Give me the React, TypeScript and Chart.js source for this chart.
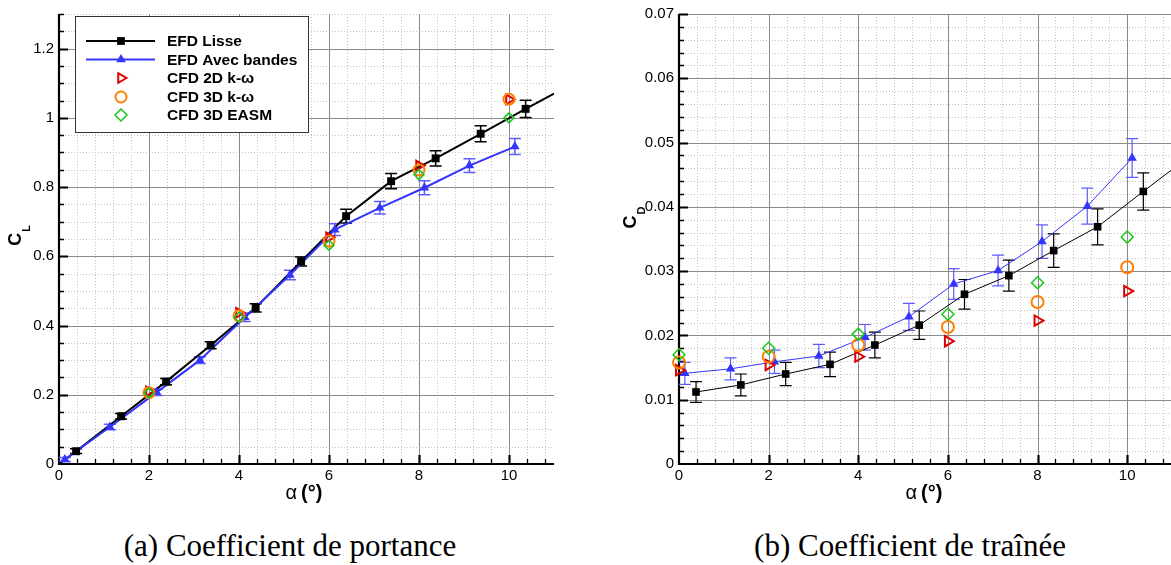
import React, { useEffect, useRef } from 'react';
import { Chart, registerables } from 'chart.js';

Chart.register(...registerables);

const SANS = '"Liberation Sans", Arial, Helvetica, sans-serif';
const SERIF = '"Liberation Serif", "Times New Roman", serif';
Chart.defaults.font.family = SANS;

// ---------------- data : lift coefficient ----------------
const CL_X_TICKS = [0, 2, 4, 6, 8, 10];
const CL_Y_TICKS = [0, 0.2, 0.4, 0.6, 0.8, 1, 1.2];

const LISSE_ALPHA_CL = [0.38, 1.38, 2.38, 3.37, 4.37, 5.38, 6.38, 7.38, 8.37, 9.37, 10.37];
const LISSE_CL = [0.037, 0.138, 0.238, 0.343, 0.451, 0.585, 0.716, 0.817, 0.883, 0.954, 1.026];
const LISSE_CL_ERR = [0.007, 0.008, 0.009, 0.01, 0.012, 0.013, 0.02, 0.022, 0.022, 0.023, 0.025];
const LISSE_CL_TREND_ALPHA = [0, 11];
const LISSE_CL_TREND = [0, 1.07];

const BANDES_ALPHA_CL = [0.13, 1.13, 2.17, 3.13, 4.13, 5.13, 6.13, 7.13, 8.12, 9.12, 10.13];
const BANDES_CL = [0.013, 0.107, 0.207, 0.3, 0.424, 0.546, 0.677, 0.74, 0.798, 0.862, 0.917];
const BANDES_CL_ERR = [0.006, 0.008, 0.009, 0.01, 0.012, 0.014, 0.017, 0.018, 0.02, 0.02, 0.023];

const CFD_ALPHA_CL = [2, 4, 6, 8, 10];
const CFD2D_CL = [0.21, 0.437, 0.655, 0.862, 1.053];
const CFD3D_CL = [0.206, 0.428, 0.644, 0.849, 1.054];
const EASM_CL = [0.205, 0.424, 0.632, 0.836, 1.0];

// ---------------- data : drag coefficient ----------------
const CD_X_TICKS = [0, 2, 4, 6, 8, 10];
const CD_Y_TICKS = [0, 0.01, 0.02, 0.03, 0.04, 0.05, 0.06, 0.07];

const LISSE_ALPHA_CD = [0.38, 1.38, 2.38, 3.37, 4.37, 5.36, 6.37, 7.36, 8.36, 9.34, 10.36];
const LISSE_CD = [0.0112, 0.0123, 0.014, 0.0155, 0.0185, 0.0216, 0.0264, 0.0293, 0.0332, 0.0369, 0.0424];
const LISSE_CD_ERR = [0.0016, 0.0017, 0.0018, 0.0019, 0.002, 0.0022, 0.0023, 0.0024, 0.0026, 0.0028, 0.0029];
const LISSE_CD_TREND_ALPHA = [11];
const LISSE_CD_TREND = [0.0458];

const BANDES_ALPHA_CD = [0.13, 1.15, 2.13, 3.12, 4.15, 5.13, 6.13, 7.12, 8.1, 9.11, 10.11];
const BANDES_CD = [0.0141, 0.0148, 0.0159, 0.0168, 0.0197, 0.0229, 0.028, 0.0301, 0.0346, 0.0401, 0.0476];
const BANDES_CD_ERR = [0.0017, 0.0017, 0.0018, 0.0018, 0.002, 0.0021, 0.0024, 0.0024, 0.0026, 0.0028, 0.003];

const CFD_ALPHA_CD = [0, 2, 4, 6, 8, 10];
const CFD2D_CD = [0.0146, 0.0154, 0.0167, 0.0191, 0.0223, 0.0269];
const CFD3D_CD = [0.0158, 0.0167, 0.0185, 0.0213, 0.0252, 0.0306];
const EASM_CD = [0.017, 0.018, 0.0202, 0.0233, 0.0282, 0.0353];

const LEGEND_LABELS = ['EFD Lisse', 'EFD Avec bandes', 'CFD 2D k-\u03c9', 'CFD 3D k-\u03c9', 'CFD 3D EASM'];

// ---------------- styles ----------------
const C = {
  lisse: '#000000',
  bandes: '#3434ff',
  bandesErr: '#5c5cff',
  cfd2d: '#dd0000',
  cfd3d: '#ff7f00',
  easm: '#18c818',
  major: '#8a8a8a',
  minor: '#c4c4c4',
};

const pts = (xs: number[], ys: number[]) => xs.map((x, i) => ({ x, y: ys[i] }));

type FrameOpts = {
  xTicks: number[];
  yTicks: number[];
  xMinor: number;
  yMinor: number;
  yTitle: string;
  yTitleSub: string;
  yTitlePos: [number, number];
  xTitleX: number;
  legend: boolean;
  errWidth: number;
};

function drawMarker(ctx: CanvasRenderingContext2D, kind: string, x: number, y: number, r: number, color: string, filled: boolean, lw: number) {
  ctx.save();
  ctx.beginPath();
  if (kind === 'rect') {
    const s = r * Math.SQRT1_2;
    ctx.rect(x - s, y - s, 2 * s, 2 * s);
  } else if (kind === 'triangle') {
    ctx.moveTo(x, y - r);
    ctx.lineTo(x + r * Math.sin((2 * Math.PI) / 3), y - r * Math.cos((2 * Math.PI) / 3));
    ctx.lineTo(x + r * Math.sin((4 * Math.PI) / 3), y - r * Math.cos((4 * Math.PI) / 3));
    ctx.closePath();
  } else if (kind === 'triRight') {
    ctx.moveTo(x + r, y);
    ctx.lineTo(x - r * 0.5, y + r * 0.866);
    ctx.lineTo(x - r * 0.5, y - r * 0.866);
    ctx.closePath();
  } else if (kind === 'circle') {
    ctx.arc(x, y, r, 0, Math.PI * 2);
  } else if (kind === 'diamond') {
    ctx.moveTo(x, y - r);
    ctx.lineTo(x + r, y);
    ctx.lineTo(x, y + r);
    ctx.lineTo(x - r, y);
    ctx.closePath();
  }
  if (filled) {
    ctx.fillStyle = color;
    ctx.fill();
  } else {
    ctx.strokeStyle = color;
    ctx.lineWidth = lw;
    ctx.stroke();
  }
  ctx.restore();
}

function makeFramePlugin(o: FrameOpts) {
  const isMajor = (v: number, ticks: number[]) => ticks.some((t) => Math.abs(t - v) < 1e-9);
  return {
    id: 'frame',
    beforeDatasetsDraw(chart: any) {
      const { ctx, chartArea: a } = chart;
      const xs = chart.scales.x;
      const ys = chart.scales.y;
      ctx.save();
      // minor grid (dotted)
      ctx.lineWidth = 1;
      ctx.strokeStyle = C.minor;
      ctx.setLineDash([1, 2]);
      ctx.beginPath();
      for (let i = 1; i * o.xMinor < xs.max - 1e-9; i++) {
        const v = i * o.xMinor;
        if (isMajor(v, o.xTicks)) continue;
        const p = Math.round(xs.getPixelForValue(v)) + 0.5;
        ctx.moveTo(p, a.top);
        ctx.lineTo(p, a.bottom);
      }
      for (let i = 1; i * o.yMinor <= ys.max + 1e-9; i++) {
        const v = i * o.yMinor;
        if (isMajor(v, o.yTicks)) continue;
        const p = Math.round(ys.getPixelForValue(v)) + 0.5;
        ctx.moveTo(a.left, p);
        ctx.lineTo(a.right, p);
      }
      ctx.stroke();
      // major grid
      ctx.setLineDash([]);
      ctx.strokeStyle = C.major;
      ctx.beginPath();
      o.xTicks.forEach((v) => {
        if (v <= 0) return;
        const p = Math.round(xs.getPixelForValue(v)) + 0.5;
        ctx.moveTo(p, a.top);
        ctx.lineTo(p, a.bottom);
      });
      o.yTicks.forEach((v) => {
        if (v <= 0) return;
        const p = Math.round(ys.getPixelForValue(v)) + 0.5;
        ctx.moveTo(a.left, p);
        ctx.lineTo(a.right, p);
      });
      ctx.stroke();
      // axes
      ctx.strokeStyle = '#000';
      ctx.lineWidth = 2.2;
      ctx.beginPath();
      ctx.moveTo(a.left, a.top);
      ctx.lineTo(a.left, a.bottom);
      ctx.lineTo(a.right, a.bottom);
      ctx.stroke();
      // inward ticks
      ctx.lineWidth = 1.3;
      ctx.beginPath();
      for (let i = 1; i * o.xMinor < xs.max - 1e-9; i++) {
        const v = i * o.xMinor;
        if (isMajor(v, o.xTicks)) continue;
        const p = Math.round(xs.getPixelForValue(v)) + 0.5;
        ctx.moveTo(p, a.bottom);
        ctx.lineTo(p, a.bottom - 5);
      }
      for (let i = 1; i * o.yMinor <= ys.max + 1e-9; i++) {
        const v = i * o.yMinor;
        if (isMajor(v, o.yTicks)) continue;
        const p = Math.round(ys.getPixelForValue(v)) + 0.5;
        ctx.moveTo(a.left, p);
        ctx.lineTo(a.left + 5, p);
      }
      ctx.stroke();
      ctx.lineWidth = 2.2;
      ctx.beginPath();
      o.xTicks.forEach((v) => {
        if (v <= 0) return;
        const p = Math.round(xs.getPixelForValue(v)) + 0.5;
        ctx.moveTo(p, a.bottom);
        ctx.lineTo(p, a.bottom - 9);
      });
      o.yTicks.forEach((v) => {
        if (v <= 0) return;
        const p = Math.round(ys.getPixelForValue(v)) + 0.5;
        ctx.moveTo(a.left, p);
        ctx.lineTo(a.left + 9, p);
      });
      ctx.stroke();
      // error bars
      chart.data.datasets.forEach((ds: any, i: number) => {
        if (!ds.errorBars) return;
        const meta = chart.getDatasetMeta(i);
        ctx.strokeStyle = ds.errorColor;
        ctx.lineWidth = o.errWidth;
        ctx.beginPath();
        meta.data.forEach((el: any, j: number) => {
          const v = ds.data[j].y;
          const e = ds.errorBars[j];
          const t = ys.getPixelForValue(v + e);
          const b = ys.getPixelForValue(v - e);
          const x = el.x;
          ctx.moveTo(x, t);
          ctx.lineTo(x, b);
          ctx.moveTo(x - 6, t);
          ctx.lineTo(x + 6, t);
          ctx.moveTo(x - 6, b);
          ctx.lineTo(x + 6, b);
        });
        ctx.stroke();
      });
      ctx.restore();
    },
    afterDraw(chart: any) {
      const { ctx, chartArea: a } = chart;
      ctx.save();
      ctx.fillStyle = '#000';
      // y title (rotated, with subscript)
      const [cx, cy] = o.yTitlePos;
      ctx.translate(cx, cy);
      ctx.rotate(-Math.PI / 2);
      ctx.font = `bold 18px ${SANS}`;
      const w1 = ctx.measureText(o.yTitle).width;
      ctx.font = `bold 11px ${SANS}`;
      const w2 = ctx.measureText(o.yTitleSub).width;
      const start = -(w1 + w2) / 2;
      ctx.textBaseline = 'middle';
      ctx.textAlign = 'left';
      ctx.font = `bold 18px ${SANS}`;
      ctx.fillText(o.yTitle, start, 0);
      ctx.font = `bold 11px ${SANS}`;
      ctx.fillText(o.yTitleSub, start + w1 + 1, 11);
      ctx.setTransform(1, 0, 0, 1, 0, 0);
      // x title
      ctx.textBaseline = 'alphabetic';
      ctx.font = `20px ${SANS}`;
      const wa = ctx.measureText('\u03b1').width;
      ctx.font = `bold 20px ${SANS}`;
      const wb = ctx.measureText('(\u00b0)').width;
      const gap = 4;
      const sx = o.xTitleX - (wa + gap + wb) / 2;
      ctx.font = `20px ${SANS}`;
      ctx.fillText('\u03b1', sx, a.bottom + 35);
      ctx.font = `bold 20px ${SANS}`;
      ctx.fillText('(\u00b0)', sx + wa + gap, a.bottom + 35);
      // legend
      if (o.legend) {
        const bx = 75, by = 16, bw = 233, bh = 116;
        ctx.fillStyle = '#fff';
        ctx.fillRect(bx, by, bw, bh);
        ctx.strokeStyle = '#333';
        ctx.lineWidth = 1;
        ctx.strokeRect(bx + 0.5, by + 0.5, bw, bh);
        const rows = [41, 59.5, 78, 97, 115];
        const mx = 121;
        ctx.lineWidth = 2;
        ctx.strokeStyle = C.lisse;
        ctx.beginPath(); ctx.moveTo(86, rows[0]); ctx.lineTo(155, rows[0]); ctx.stroke();
        ctx.strokeStyle = C.bandes;
        ctx.beginPath(); ctx.moveTo(86, rows[1]); ctx.lineTo(155, rows[1]); ctx.stroke();
        drawMarker(ctx, 'rect', mx, rows[0], 5.5, C.lisse, true, 0);
        drawMarker(ctx, 'triangle', mx, rows[1], 5.5, C.bandes, true, 0);
        drawMarker(ctx, 'triRight', mx, rows[2], 5.5, C.cfd2d, false, 2);
        drawMarker(ctx, 'circle', mx, rows[3], 5.5, C.cfd3d, false, 2);
        drawMarker(ctx, 'diamond', mx, rows[4], 6, C.easm, false, 1.5);
        ctx.fillStyle = '#000';
        ctx.font = `bold 15.5px ${SANS}`;
        ctx.textBaseline = 'middle';
        LEGEND_LABELS.forEach((t, i) => ctx.fillText(t, 167, rows[i] + 1));
      }
      ctx.restore();
    },
  };
}

const fmt = (v: number) => String(+v.toFixed(4));

function makeScales(xMax: number, yMax: number, xTicks: number[], yTicks: number[], yWidth: number) {
  return {
    x: {
      type: 'linear',
      min: 0,
      max: xMax,
      afterBuildTicks: (s: any) => { s.ticks = xTicks.map((v) => ({ value: v })); },
      afterFit: (s: any) => { s.height = 40; },
      ticks: { autoSkip: false, maxRotation: 0, padding: 3, color: '#000', font: { size: 15, family: SANS }, callback: (v: any) => fmt(Number(v)) },
      grid: { display: false, drawTicks: false },
      border: { display: false },
    },
    y: {
      type: 'linear',
      min: 0,
      max: yMax,
      afterBuildTicks: (s: any) => { s.ticks = yTicks.map((v) => ({ value: v })); },
      afterFit: (s: any) => { s.width = yWidth; },
      ticks: { autoSkip: false, padding: 5, color: '#000', font: { size: 15, family: SANS }, callback: (v: any) => fmt(Number(v)) },
      grid: { display: false, drawTicks: false },
      border: { display: false },
    },
  };
}

function markerSet(data: any[], style: string, radius: number, color: string, filled: boolean, bw: number, order: number, extra: any = {}) {
  return {
    data,
    showLine: false,
    pointStyle: style,
    pointRotation: style === 'triangle' && extra.rot ? extra.rot : 0,
    pointRadius: radius,
    pointBorderColor: color,
    pointBackgroundColor: filled ? color : 'rgba(0,0,0,0)',
    pointBorderWidth: bw,
    clip: false,
    order,
    ...extra,
  };
}

function clConfig(): any {
  const trend = [
    { x: LISSE_CL_TREND_ALPHA[0], y: LISSE_CL_TREND[0] },
    ...pts(LISSE_ALPHA_CL, LISSE_CL),
    { x: LISSE_CL_TREND_ALPHA[1], y: LISSE_CL_TREND[1] },
  ];
  return {
    type: 'scatter',
    data: {
      datasets: [
        markerSet(pts(CFD_ALPHA_CL, EASM_CL), 'rectRot', 5, C.easm, false, 1.5, 0),
        markerSet(pts(CFD_ALPHA_CL, CFD3D_CL), 'circle', 5.5, C.cfd3d, false, 2, 1),
        markerSet(pts(CFD_ALPHA_CL, CFD2D_CL), 'triangle', 5.5, C.cfd2d, false, 2, 2, { rot: 90 }),
        markerSet(pts(LISSE_ALPHA_CL, LISSE_CL), 'rect', 5.6, C.lisse, true, 0, 3, { errorBars: LISSE_CL_ERR, errorColor: C.lisse }),
        {
          data: pts(BANDES_ALPHA_CL, BANDES_CL),
          showLine: true,
          borderColor: C.bandes,
          borderWidth: 2,
          pointStyle: 'triangle',
          pointRadius: 5.5,
          pointBackgroundColor: C.bandes,
          pointBorderColor: C.bandes,
          pointBorderWidth: 0,
          clip: false,
          order: 4,
          errorBars: BANDES_CL_ERR,
          errorColor: C.bandesErr,
        },
        { data: trend, showLine: true, borderColor: C.lisse, borderWidth: 2, pointRadius: 0, order: 5 },
      ],
    },
    options: {
      responsive: false,
      devicePixelRatio: 1,
      animation: false,
      events: [],
      layout: { padding: { top: 10, right: 26, left: 0, bottom: 0 } },
      plugins: { legend: { display: false }, tooltip: { enabled: false } },
      scales: makeScales(11, 1.3, CL_X_TICKS, CL_Y_TICKS, 59),
    },
    plugins: [
      makeFramePlugin({
        xTicks: CL_X_TICKS, yTicks: CL_Y_TICKS, xMinor: 0.4, yMinor: 0.05,
        yTitle: 'C', yTitleSub: 'L', yTitlePos: [16, 236], xTitleX: 304, legend: true, errWidth: 1.5,
      }),
    ],
  };
}

function cdConfig(): any {
  const trend = [...pts(LISSE_ALPHA_CD, LISSE_CD), ...pts(LISSE_CD_TREND_ALPHA, LISSE_CD_TREND)];
  return {
    type: 'scatter',
    data: {
      datasets: [
        markerSet(pts(CFD_ALPHA_CD, EASM_CD), 'rectRot', 6, C.easm, false, 1.5, 0),
        markerSet(pts(CFD_ALPHA_CD, CFD3D_CD), 'circle', 6, C.cfd3d, false, 2, 1),
        markerSet(pts(CFD_ALPHA_CD, CFD2D_CD), 'triangle', 6, C.cfd2d, false, 2, 2, { rot: 90 }),
        markerSet(pts(LISSE_ALPHA_CD, LISSE_CD), 'rect', 5.4, C.lisse, true, 0, 3, { errorBars: LISSE_CD_ERR, errorColor: C.lisse }),
        {
          data: pts(BANDES_ALPHA_CD, BANDES_CD),
          showLine: true,
          borderColor: C.bandes,
          borderWidth: 1,
          pointStyle: 'triangle',
          pointRadius: 5.5,
          pointBackgroundColor: C.bandes,
          pointBorderColor: C.bandes,
          pointBorderWidth: 0,
          clip: false,
          order: 4,
          errorBars: BANDES_CD_ERR,
          errorColor: C.bandesErr,
        },
        { data: trend, showLine: true, borderColor: C.lisse, borderWidth: 1, pointRadius: 0, order: 5 },
      ],
    },
    options: {
      responsive: false,
      devicePixelRatio: 1,
      animation: false,
      events: [],
      layout: { padding: { top: 10, right: 6, left: 0, bottom: 0 } },
      plugins: { legend: { display: false }, tooltip: { enabled: false } },
      scales: makeScales(11, 0.07, CD_X_TICKS, CD_Y_TICKS, 79),
    },
    plugins: [
      makeFramePlugin({
        xTicks: CD_X_TICKS, yTicks: CD_Y_TICKS, xMinor: 0.4, yMinor: 0.002,
        yTitle: 'C', yTitleSub: 'D', yTitlePos: [31, 218], xTitleX: 324, legend: false, errWidth: 1.2,
      }),
    ],
  };
}

function ChartCanvas({ make, left, top, width, height }: { make: () => any; left: number; top: number; width: number; height: number }) {
  const ref = useRef<HTMLCanvasElement>(null);
  useEffect(() => {
    const chart = new Chart(ref.current as HTMLCanvasElement, make());
    return () => chart.destroy();
  }, []);
  return (
    <canvas
      ref={ref}
      width={width}
      height={height}
      style={{ position: 'absolute', left, top, width, height }}
    />
  );
}

const captionStyle = (cx: number): React.CSSProperties => ({
  position: 'absolute',
  left: cx - 250,
  width: 500,
  top: 528,
  lineHeight: '36px',
  textAlign: 'center',
  fontFamily: SERIF,
  fontSize: 31,
  color: '#000',
  whiteSpace: 'nowrap',
});

export default function App() {
  return (
    <div style={{ position: 'absolute', left: 0, top: 0, width: 1171, height: 565, overflow: 'hidden', background: '#fff' }}>
      <ChartCanvas make={clConfig} left={0} top={0} width={580} height={504} />
      <ChartCanvas make={cdConfig} left={600} top={0} width={580} height={504} />
      <div style={captionStyle(290)}>(a) Coefficient de portance</div>
      <div style={captionStyle(910)}>(b) Coefficient de traîn&eacute;e</div>
    </div>
  );
}
